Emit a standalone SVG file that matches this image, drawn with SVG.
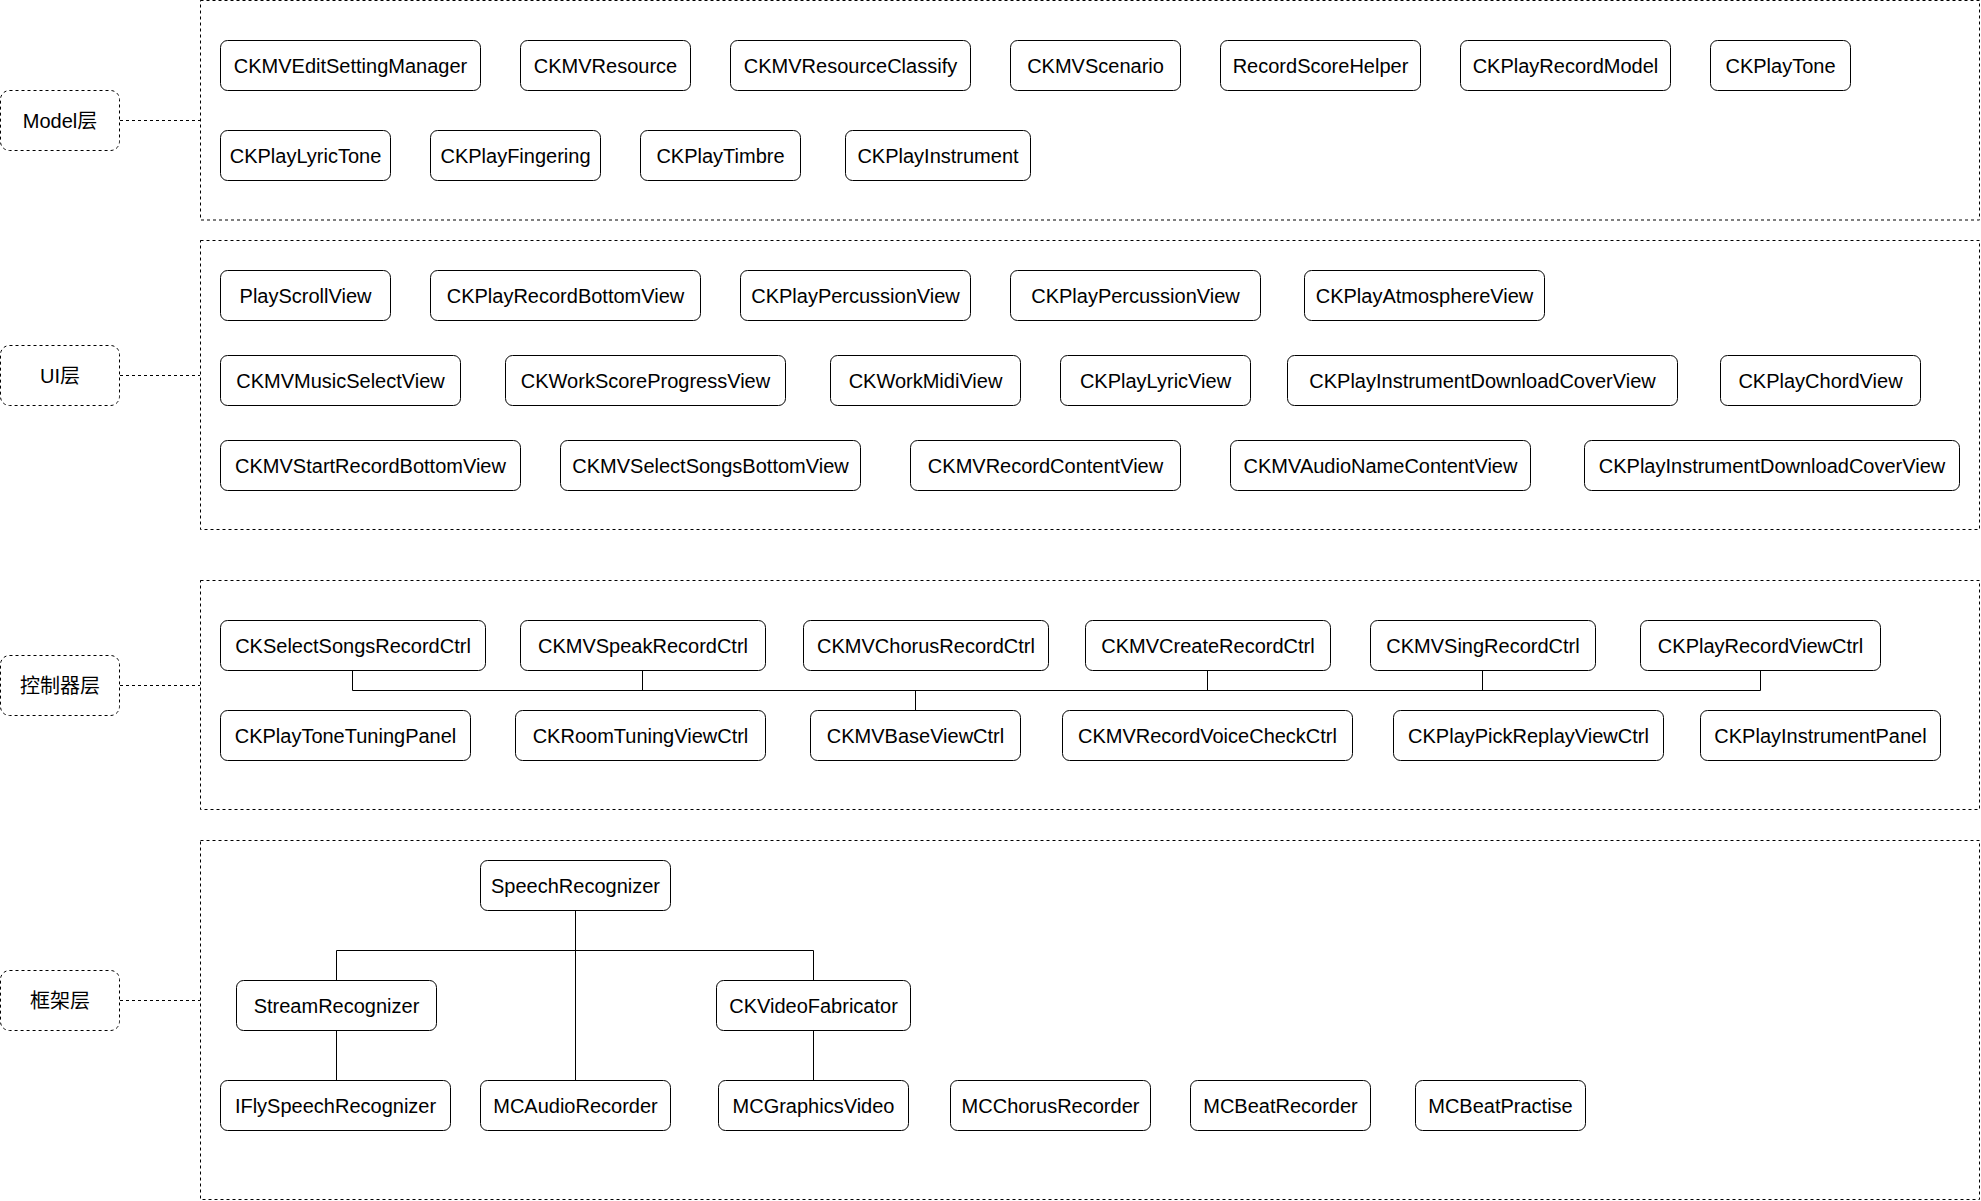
<svg xmlns="http://www.w3.org/2000/svg" width="1981" height="1201" viewBox="0 0 1981 1201">
<style>
.n rect{fill:#fff;stroke:#000;stroke-width:1}
.n text,.lb text{font-family:"Liberation Sans",Arial,"Noto Sans CJK SC",sans-serif;font-size:20px;fill:#000;text-anchor:middle}
.ct{fill:none;stroke:#000;stroke-width:1;stroke-dasharray:3 3}
.lb rect{fill:#fff;stroke:#000;stroke-width:1;stroke-dasharray:3 3}
.e{fill:none;stroke:#000;stroke-width:1}
.d{fill:none;stroke:#000;stroke-width:1;stroke-dasharray:3 3}
</style>
<rect width="1981" height="1201" fill="#fff"/>
<g id="containers">
<rect id="c-model" class="ct" x="200.5" y="0.5" width="1779" height="219.5"/>
<rect id="c-ui" class="ct" x="200.5" y="240.5" width="1779" height="289"/>
<rect id="c-ctrl" class="ct" x="200.5" y="580.5" width="1779" height="229"/>
<rect id="c-fw" class="ct" x="200.5" y="840.5" width="1779" height="359"/>
</g>
<g id="labels">
<g id="lb-model" class="lb"><rect x="0.5" y="90.5" width="119" height="60" rx="9"/><text x="60" y="128">Model层</text></g>
<g id="lb-ui" class="lb"><rect x="0.5" y="345.5" width="119" height="60" rx="9"/><text x="60" y="383">UI层</text></g>
<g id="lb-ctrl" class="lb"><rect x="0.5" y="655.5" width="119" height="60" rx="9"/><text x="60" y="693">控制器层</text></g>
<g id="lb-fw" class="lb"><rect x="0.5" y="970.5" width="119" height="60" rx="9"/><text x="60" y="1008">框架层</text></g>
</g>
<g id="connectors">
<path class="d" d="M120,120.5H200M120,375.5H200M120,685.5H200M120,1000.5H200"/>
<path class="e" d="M352.5,670V690.5H1760.5V670M642.5,670V690.5M1207.5,670V690.5M1482.5,670V690.5M915.5,690.5V710"/>
<path class="e" d="M575.5,910V1080M336.5,980V950.5H813.5V980M336.5,1030V1080M813.5,1030V1080"/>
</g>
<g id="nodes">
<g id="n1" class="n"><rect x="220.5" y="40.5" width="260" height="50" rx="7"/><text x="350.5" y="72.5">CKMVEditSettingManager</text></g>
<g id="n2" class="n"><rect x="520.5" y="40.5" width="170" height="50" rx="7"/><text x="605.5" y="72.5">CKMVResource</text></g>
<g id="n3" class="n"><rect x="730.5" y="40.5" width="240" height="50" rx="7"/><text x="850.5" y="72.5">CKMVResourceClassify</text></g>
<g id="n4" class="n"><rect x="1010.5" y="40.5" width="170" height="50" rx="7"/><text x="1095.5" y="72.5">CKMVScenario</text></g>
<g id="n5" class="n"><rect x="1220.5" y="40.5" width="200" height="50" rx="7"/><text x="1320.5" y="72.5">RecordScoreHelper</text></g>
<g id="n6" class="n"><rect x="1460.5" y="40.5" width="210" height="50" rx="7"/><text x="1565.5" y="72.5">CKPlayRecordModel</text></g>
<g id="n7" class="n"><rect x="1710.5" y="40.5" width="140" height="50" rx="7"/><text x="1780.5" y="72.5">CKPlayTone</text></g>
<g id="n8" class="n"><rect x="220.5" y="130.5" width="170" height="50" rx="7"/><text x="305.5" y="162.5">CKPlayLyricTone</text></g>
<g id="n9" class="n"><rect x="430.5" y="130.5" width="170" height="50" rx="7"/><text x="515.5" y="162.5">CKPlayFingering</text></g>
<g id="n10" class="n"><rect x="640.5" y="130.5" width="160" height="50" rx="7"/><text x="720.5" y="162.5">CKPlayTimbre</text></g>
<g id="n11" class="n"><rect x="845.5" y="130.5" width="185" height="50" rx="7"/><text x="938" y="162.5">CKPlayInstrument</text></g>

<g id="u1" class="n"><rect x="220.5" y="270.5" width="170" height="50" rx="7"/><text x="305.5" y="302.5">PlayScrollView</text></g>
<g id="u2" class="n"><rect x="430.5" y="270.5" width="270" height="50" rx="7"/><text x="565.5" y="302.5">CKPlayRecordBottomView</text></g>
<g id="u3" class="n"><rect x="740.5" y="270.5" width="230" height="50" rx="7"/><text x="855.5" y="302.5">CKPlayPercussionView</text></g>
<g id="u4" class="n"><rect x="1010.5" y="270.5" width="250" height="50" rx="7"/><text x="1135.5" y="302.5">CKPlayPercussionView</text></g>
<g id="u5" class="n"><rect x="1304.5" y="270.5" width="240" height="50" rx="7"/><text x="1424.5" y="302.5">CKPlayAtmosphereView</text></g>
<g id="u6" class="n"><rect x="220.5" y="355.5" width="240" height="50" rx="7"/><text x="340.5" y="387.5">CKMVMusicSelectView</text></g>
<g id="u7" class="n"><rect x="505.5" y="355.5" width="280" height="50" rx="7"/><text x="645.5" y="387.5">CKWorkScoreProgressView</text></g>
<g id="u8" class="n"><rect x="830.5" y="355.5" width="190" height="50" rx="7"/><text x="925.5" y="387.5">CKWorkMidiView</text></g>
<g id="u9" class="n"><rect x="1060.5" y="355.5" width="190" height="50" rx="7"/><text x="1155.5" y="387.5">CKPlayLyricView</text></g>
<g id="u10" class="n"><rect x="1287.5" y="355.5" width="390" height="50" rx="7"/><text x="1482.5" y="387.5">CKPlayInstrumentDownloadCoverView</text></g>
<g id="u11" class="n"><rect x="1720.5" y="355.5" width="200" height="50" rx="7"/><text x="1820.5" y="387.5">CKPlayChordView</text></g>
<g id="u12" class="n"><rect x="220.5" y="440.5" width="300" height="50" rx="7"/><text x="370.5" y="472.5">CKMVStartRecordBottomView</text></g>
<g id="u13" class="n"><rect x="560.5" y="440.5" width="300" height="50" rx="7"/><text x="710.5" y="472.5">CKMVSelectSongsBottomView</text></g>
<g id="u14" class="n"><rect x="910.5" y="440.5" width="270" height="50" rx="7"/><text x="1045.5" y="472.5">CKMVRecordContentView</text></g>
<g id="u15" class="n"><rect x="1230.5" y="440.5" width="300" height="50" rx="7"/><text x="1380.5" y="472.5">CKMVAudioNameContentView</text></g>
<g id="u16" class="n"><rect x="1584.5" y="440.5" width="375" height="50" rx="7"/><text x="1772" y="472.5">CKPlayInstrumentDownloadCoverView</text></g>

<g id="k1" class="n"><rect x="220.5" y="620.5" width="265" height="50" rx="7"/><text x="353" y="652.5">CKSelectSongsRecordCtrl</text></g>
<g id="k2" class="n"><rect x="520.5" y="620.5" width="245" height="50" rx="7"/><text x="643" y="652.5">CKMVSpeakRecordCtrl</text></g>
<g id="k3" class="n"><rect x="803.5" y="620.5" width="245" height="50" rx="7"/><text x="926" y="652.5">CKMVChorusRecordCtrl</text></g>
<g id="k4" class="n"><rect x="1085.5" y="620.5" width="245" height="50" rx="7"/><text x="1208" y="652.5">CKMVCreateRecordCtrl</text></g>
<g id="k5" class="n"><rect x="1370.5" y="620.5" width="225" height="50" rx="7"/><text x="1483" y="652.5">CKMVSingRecordCtrl</text></g>
<g id="k6" class="n"><rect x="1640.5" y="620.5" width="240" height="50" rx="7"/><text x="1760.5" y="652.5">CKPlayRecordViewCtrl</text></g>
<g id="k7" class="n"><rect x="220.5" y="710.5" width="250" height="50" rx="7"/><text x="345.5" y="742.5">CKPlayToneTuningPanel</text></g>
<g id="k8" class="n"><rect x="515.5" y="710.5" width="250" height="50" rx="7"/><text x="640.5" y="742.5">CKRoomTuningViewCtrl</text></g>
<g id="k9" class="n"><rect x="810.5" y="710.5" width="210" height="50" rx="7"/><text x="915.5" y="742.5">CKMVBaseViewCtrl</text></g>
<g id="k10" class="n"><rect x="1062.5" y="710.5" width="290" height="50" rx="7"/><text x="1207.5" y="742.5">CKMVRecordVoiceCheckCtrl</text></g>
<g id="k11" class="n"><rect x="1393.5" y="710.5" width="270" height="50" rx="7"/><text x="1528.5" y="742.5">CKPlayPickReplayViewCtrl</text></g>
<g id="k12" class="n"><rect x="1700.5" y="710.5" width="240" height="50" rx="7"/><text x="1820.5" y="742.5">CKPlayInstrumentPanel</text></g>

<g id="f1" class="n"><rect x="480.5" y="860.5" width="190" height="50" rx="7"/><text x="575.5" y="892.5">SpeechRecognizer</text></g>
<g id="f2" class="n"><rect x="236.5" y="980.5" width="200" height="50" rx="7"/><text x="336.5" y="1012.5">StreamRecognizer</text></g>
<g id="f3" class="n"><rect x="716.5" y="980.5" width="194" height="50" rx="7"/><text x="813.5" y="1012.5">CKVideoFabricator</text></g>
<g id="f4" class="n"><rect x="220.5" y="1080.5" width="230" height="50" rx="7"/><text x="335.5" y="1112.5">IFlySpeechRecognizer</text></g>
<g id="f5" class="n"><rect x="480.5" y="1080.5" width="190" height="50" rx="7"/><text x="575.5" y="1112.5">MCAudioRecorder</text></g>
<g id="f6" class="n"><rect x="718.5" y="1080.5" width="190" height="50" rx="7"/><text x="813.5" y="1112.5">MCGraphicsVideo</text></g>
<g id="f7" class="n"><rect x="950.5" y="1080.5" width="200" height="50" rx="7"/><text x="1050.5" y="1112.5">MCChorusRecorder</text></g>
<g id="f8" class="n"><rect x="1190.5" y="1080.5" width="180" height="50" rx="7"/><text x="1280.5" y="1112.5">MCBeatRecorder</text></g>
<g id="f9" class="n"><rect x="1415.5" y="1080.5" width="170" height="50" rx="7"/><text x="1500.5" y="1112.5">MCBeatPractise</text></g>
</g>
</svg>
